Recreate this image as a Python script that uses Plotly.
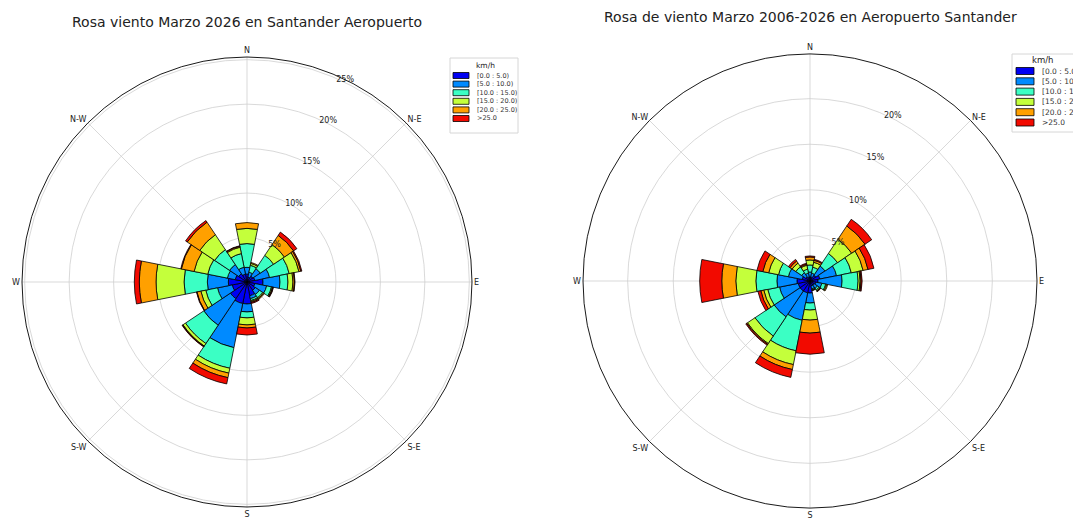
import plotly.graph_objects as go

# ---------------- data ----------------
directions = ["N", "NNE", "NE", "ENE", "E", "ESE", "SE", "SSE",
              "S", "SSW", "SW", "WSW", "W", "WNW", "NW", "NNW"]
dir_angles = [0, 22.5, 45, 67.5, 90, 112.5, 135, 157.5,
              180, 202.5, 225, 247.5, 270, 292.5, 315, 337.5]
speed_bins = ["[0.0 : 5.0)", "[5.0 : 10.0)", "[10.0 : 15.0)",
              "[15.0 : 20.0)", "[20.0 : 25.0)", ">25.0"]
bin_colors = ["#0000F2", "#008AFF", "#3BFFC4", "#C4FF3B", "#FFA000", "#F20A00"]

compass_labels = ["N", "N-E", "E", "S-E", "S", "S-W", "W", "N-W"]
compass_angles = [0, 45, 90, 135, 180, 225, 270, 315]

# March 2026 (frequency %, per speed bin, per direction)
mar2026_b0 = [0.90, 0.56, 0.79, 0.90, 1.80, 0.90, 1.12, 1.57, 2.47, 2.47, 2.25, 1.69, 2.10, 1.35, 1.12, 0.90]
mar2026_b1 = [0.75, 0.56, 1.01, 1.69, 1.91, 1.35, 0.56, 0.34, 0.90, 5.06, 3.60, 1.69, 2.36, 0.90, 1.24, 0.79]
mar2026_b2 = [2.67, 0.79, 1.80, 2.25, 0.90, 0.56, 0.45, 0.22, 0.67, 2.36, 2.47, 1.35, 2.62, 2.25, 2.02, 1.57]
mar2026_b3 = [1.71, 0.22, 1.46, 1.12, 0.56, 0.11, 0.11, 0.11, 0.79, 0.56, 0.34, 0.56, 3.15, 1.57, 2.02, 0.73]
mar2026_b4 = [0.65, 0.11, 1.24, 0.22, 0.17, 0.06, 0.11, 0.11, 0.34, 0.52, 0.06, 0.45, 1.88, 1.46, 1.69, 0.11]
mar2026_b5 = [0.00, 0.00, 0.45, 0.11, 0.06, 0.06, 0.00, 0.11, 0.79, 0.72, 0.06, 0.06, 0.56, 0.06, 0.22, 0.06]

# March 2006-2026
mar0626_b0 = [0.44, 0.44, 0.77, 1.10, 0.88, 0.66, 0.55, 0.55, 1.32, 1.32, 1.32, 1.32, 1.43, 0.88, 0.55, 0.44]
mar0626_b1 = [0.55, 0.44, 1.21, 1.87, 2.64, 0.66, 0.44, 0.33, 1.10, 3.08, 3.41, 2.09, 2.20, 1.54, 0.55, 0.44]
mar0626_b2 = [0.77, 0.66, 1.65, 1.65, 1.76, 0.44, 0.22, 0.11, 0.77, 3.41, 2.53, 1.32, 2.31, 1.10, 0.77, 0.44]
mar0626_b3 = [0.55, 0.55, 1.87, 1.32, 0.22, 0.11, 0.11, 0.05, 1.10, 1.54, 0.99, 0.44, 2.20, 1.10, 0.49, 0.44]
mar0626_b4 = [0.33, 0.22, 1.76, 0.55, 0.11, 0.11, 0.05, 0.05, 1.43, 0.55, 0.11, 0.33, 1.54, 0.66, 0.27, 0.11]
mar0626_b5 = [0.11, 0.11, 0.88, 0.66, 0.11, 0.00, 0.05, 0.00, 2.31, 0.88, 0.11, 0.33, 2.42, 0.66, 0.22, 0.11]

title_left = "Rosa viento Marzo 2026 en Santander Aeropuerto"
title_right = "Rosa de viento Marzo 2006-2026 en Aeropuerto Santander"
legend_title = "km/h"

left_series = [mar2026_b0, mar2026_b1, mar2026_b2, mar2026_b3, mar2026_b4, mar2026_b5]
right_series = [mar0626_b0, mar0626_b1, mar0626_b2, mar0626_b3, mar0626_b4, mar0626_b5]

left_rticks = [5, 10, 15, 20, 25]
right_rticks = [5, 10, 15, 20]

# ---------------- figure ----------------
W, H = 1073, 518
FONT = "DejaVu Sans"
fig = go.Figure()

for series, subplot in [(left_series, "polar"), (right_series, "polar2")]:
    for name, vals, col in zip(speed_bins, series, bin_colors):
        fig.add_trace(go.Barpolar(
            r=vals, theta=dir_angles, width=[22.5] * len(dir_angles),
            name=name, marker=dict(color=col, line=dict(color="black", width=0.8)),
            subplot=subplot, hoverinfo="skip", showlegend=False,
        ))


def px_dom(cx, cy, rad):
    return dict(x=[(cx - rad) / W, (cx + rad) / W],
                y=[(H - (cy + rad)) / H, (H - (cy - rad)) / H])


def polar_cfg(cx, cy, rad, rmax, ticks):
    return dict(
        domain=px_dom(cx, cy, rad),
        bgcolor="white",
        barmode="stack",
        bargap=0,
        angularaxis=dict(
            rotation=90, direction="clockwise",
            tickmode="array", tickvals=compass_angles, ticktext=compass_labels,
            showgrid=True, gridcolor="#cfcfcf", gridwidth=0.8,
            showline=True, linecolor="black", linewidth=0.9,
            ticks="", tickfont=dict(family=FONT, size=8, color="#222"),
        ),
        radialaxis=dict(
            range=[0, rmax], angle=67.5, tickangle=67.5,
            tickmode="array", tickvals=ticks, ticktext=[f"{t}%" for t in ticks],
            showgrid=True, gridcolor="#cfcfcf", gridwidth=0.8,
            showline=False, ticks="", side="clockwise",
            tickfont=dict(family=FONT, size=8, color="#222"),
        ),
    )


# ------------- legend boxes (drawn like matplotlib's) -------------
shapes = []
annotations = []


def add_legend(x0, y0, w, h, row_y0, row_dy, sw_x, sw_w, sw_h, txt_x, fs, title_x, title_y):
    shapes.append(dict(type="rect", xref="paper", yref="paper",
                       x0=x0 / W, x1=(x0 + w) / W, y0=1 - (y0 + h) / H, y1=1 - y0 / H,
                       line=dict(color="#d6d6d6", width=1), fillcolor="white", layer="above"))
    annotations.append(dict(text=legend_title, x=title_x / W, y=1 - title_y / H,
                            xref="paper", yref="paper", showarrow=False,
                            xanchor="center", yanchor="middle",
                            font=dict(family=FONT, size=fs + 1, color="#222")))
    for i, (lab, col) in enumerate(zip(speed_bins, bin_colors)):
        cy = row_y0 + i * row_dy
        shapes.append(dict(type="rect", xref="paper", yref="paper",
                           x0=sw_x / W, x1=(sw_x + sw_w) / W,
                           y0=1 - (cy + sw_h / 2) / H, y1=1 - (cy - sw_h / 2) / H,
                           line=dict(color="black", width=0.8), fillcolor=col, layer="above"))
        annotations.append(dict(text=lab, x=txt_x / W, y=1 - cy / H,
                                xref="paper", yref="paper", showarrow=False,
                                xanchor="left", yanchor="middle",
                                font=dict(family=FONT, size=fs, color="#333")))


add_legend(450, 58, 68, 75, 75.5, 8.6, 453, 16, 6, 475, 6.5, 485, 65.5)
add_legend(1012, 54, 80, 78, 71, 10.3, 1016, 18, 7, 1040, 7.5, 1042, 60)

annotations += [
    dict(text=title_left, x=247 / W, y=1 - 22 / H, xref="paper", yref="paper",
         showarrow=False, xanchor="center", yanchor="middle",
         font=dict(family=FONT, size=14, color="#222")),
    dict(text=title_right, x=810 / W, y=1 - 17 / H, xref="paper", yref="paper",
         showarrow=False, xanchor="center", yanchor="middle",
         font=dict(family=FONT, size=14, color="#222")),
]

fig.update_layout(
    width=W, height=H,
    margin=dict(l=0, r=0, t=0, b=0, autoexpand=False),
    paper_bgcolor="white",
    font=dict(family=FONT),
    showlegend=False,
    polar=polar_cfg(247, 282, 225, 25.3, left_rticks),
    polar2=polar_cfg(810, 281, 227, 24.9, right_rticks),
    shapes=shapes,
    annotations=annotations,
)

fig.write_html(
    "out.html",
    config={"displayModeBar": False, "staticPlot": True},
    post_script="document.body.style.margin='0';document.body.style.overflow='hidden';",
)
